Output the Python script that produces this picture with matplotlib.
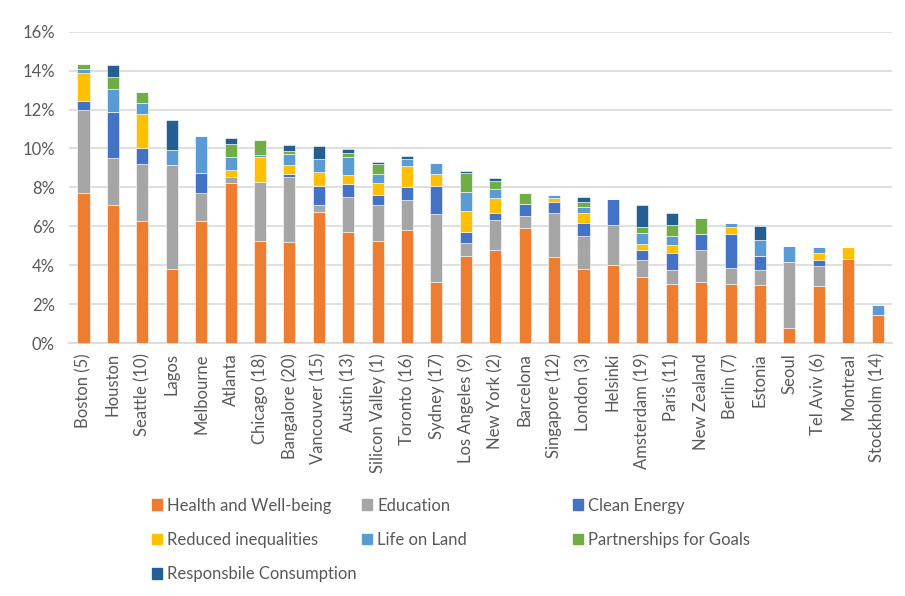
import matplotlib.pyplot as plt
import matplotlib.patches as mpatches
import numpy as np

cities = ['Boston (5)', 'Houston', 'Seattle (10)', 'Lagos', 'Melbourne', 'Atlanta',
          'Chicago (18)', 'Bangalore (20)', 'Vancouver (15)', 'Austin (13)',
          'Silicon Valley (1)', 'Toronto (16)', 'Sydney (17)', 'Los Angeles (9)',
          'New York (2)', 'Barcelona', 'Singapore (12)', 'London (3)', 'Helsinki',
          'Amsterdam (19)', 'Paris (11)', 'New Zealand', 'Berlin (7)', 'Estonia',
          'Seoul', 'Tel Aviv (6)', 'Montreal', 'Stockholm (14)']

# values in percent
health = [7.73, 7.11, 6.29, 3.79, 6.27, 8.21, 5.26, 5.21, 6.75, 5.73, 5.26, 5.79, 3.16, 4.46,
          4.80, 5.93, 4.43, 3.81, 4.02, 3.38, 3.03, 3.16, 3.06, 2.97, 0.80, 2.96, 4.34, 1.47]
education = [4.24, 2.39, 2.89, 5.34, 1.47, 0.34, 3.03, 3.34, 0.34, 1.79, 1.83, 1.56, 3.47, 0.69,
             1.54, 0.60, 2.25, 1.71, 2.05, 0.88, 0.75, 1.64, 0.79, 0.79, 3.35, 1.01, 0.00, 0.00]
clean_energy = [0.46, 2.38, 0.85, 0.00, 0.98, 0.00, 0.00, 0.12, 1.00, 0.67, 0.50, 0.68, 1.46, 0.56,
                0.36, 0.60, 0.55, 0.67, 1.33, 0.54, 0.84, 0.82, 1.74, 0.74, 0.00, 0.32, 0.00, 0.00]
reduced_ineq = [1.43, 0.00, 1.73, 0.00, 0.00, 0.34, 1.25, 0.46, 0.70, 0.44, 0.65, 1.05, 0.58, 1.08,
                0.77, 0.00, 0.21, 0.48, 0.00, 0.31, 0.44, 0.00, 0.39, 0.00, 0.00, 0.34, 0.62, 0.00]
life_on_land = [0.21, 1.18, 0.56, 0.78, 1.93, 0.65, 0.12, 0.60, 0.66, 0.91, 0.46, 0.37, 0.58, 0.97,
                0.43, 0.00, 0.18, 0.34, 0.00, 0.57, 0.44, 0.00, 0.19, 0.78, 0.84, 0.33, 0.00, 0.50]
partnerships = [0.27, 0.60, 0.60, 0.00, 0.00, 0.67, 0.77, 0.13, 0.00, 0.22, 0.50, 0.00, 0.00, 0.98,
                0.44, 0.56, 0.00, 0.22, 0.00, 0.29, 0.59, 0.79, 0.00, 0.00, 0.00, 0.00, 0.00, 0.00]
consumption = [0.00, 0.61, 0.00, 1.53, 0.00, 0.32, 0.00, 0.33, 0.69, 0.22, 0.12, 0.14, 0.00, 0.11,
               0.17, 0.00, 0.00, 0.27, 0.00, 1.12, 0.58, 0.00, 0.00, 0.74, 0.00, 0.00, 0.00, 0.00]

series = [
    ('Health and Well-being', health, '#ED7D31'),
    ('Education', education, '#A5A5A5'),
    ('Clean Energy', clean_energy, '#4472C4'),
    ('Reduced inequalities', reduced_ineq, '#FFC000'),
    ('Life on Land', life_on_land, '#5B9BD5'),
    ('Partnerships for Goals', partnerships, '#70AD47'),
    ('Responsbile Consumption', consumption, '#255E91'),
]

plt.rcParams['font.family'] = ['Lato', 'DejaVu Sans']
text_color = '#595959'

fig = plt.figure(figsize=(9.05, 5.96), dpi=100)
ax = fig.add_axes([0.076, 0.424, 0.910, 0.523])

x = np.arange(len(cities))
bottom = np.zeros(len(cities))
handles = []
for name, vals, color in series:
    vals = np.array(vals)
    ax.bar(x, vals, width=0.41, bottom=bottom, color=color, edgecolor='white',
           linewidth=0.4, zorder=3)
    bottom += vals
    handles.append(mpatches.Patch(color=color, label=name))

ax.set_ylim(0, 16)
ax.set_xlim(-0.5, len(cities) - 0.5)
ax.set_yticks(np.arange(0, 17, 2))
ax.set_yticklabels([f'{v}%' for v in range(0, 17, 2)])
ax.set_xticks(x)
ax.set_xticklabels(cities, rotation=90)
ax.tick_params(axis='both', length=0, labelsize=12, colors=text_color)
ax.tick_params(axis='y', pad=10)
ax.tick_params(axis='x', pad=7)
ax.grid(axis='y', color='#D9D9D9', linewidth=1.2, zorder=0)
for s in ['top', 'right', 'left']:
    ax.spines[s].set_visible(False)
ax.spines['bottom'].set_color('#D9D9D9')
ax.spines['bottom'].set_linewidth(1.2)

# legend in three equal-width columns, row-major order
cols = [[0, 3, 6], [1, 4], [2, 5]]
col_x = [0.168, 0.400, 0.633]
for cx, idx in zip(col_x, cols):
    fig.legend(handles=[handles[i] for i in idx], loc='upper left',
               bbox_to_anchor=(cx, 0.165), frameon=False, fontsize=12,
               labelcolor=text_color, handlelength=0.6, handleheight=0.6,
               handletextpad=0.3, labelspacing=1.1, borderpad=0, borderaxespad=0)

fig.savefig('out.png', dpi=100)
